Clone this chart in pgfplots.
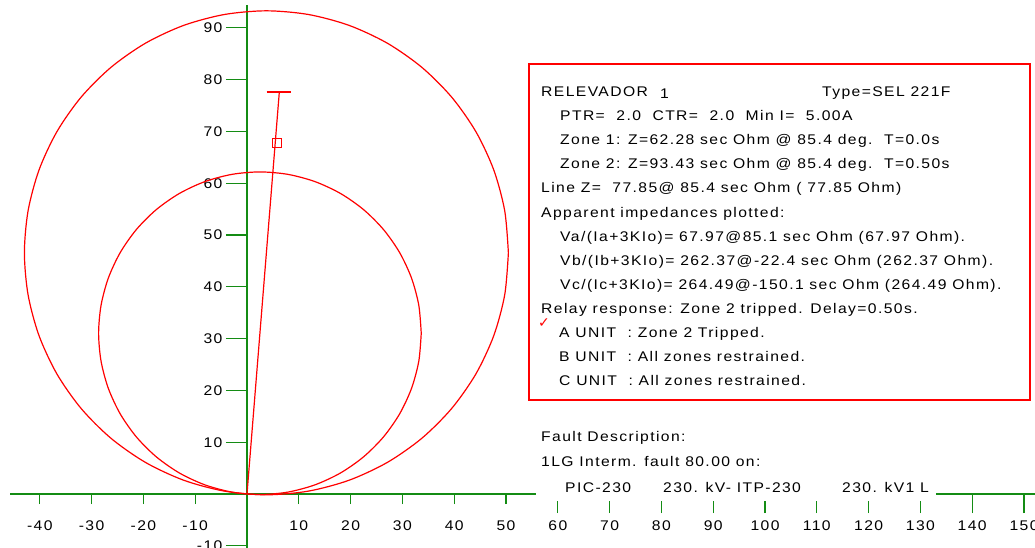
\documentclass[border=0pt]{standalone}
\usepackage{pgfplots}
\pgfplotsset{compat=1.18}
\usepackage{fontspec}
\setmainfont{Liberation Sans}
\newfontfamily\msfont[FakeStretch=1.12,LetterSpace=10]{Liberation Sans}
\newfontfamily\symfont{DejaVu Sans}
\definecolor{axgreen}{RGB}{20,140,20}
\definecolor{mhored}{RGB}{255,0,0}
\newcommand{\msf}{\msfont\fontsize{14}{16}\selectfont}
\begin{document}
\begin{tikzpicture}
\begin{axis}[
  scale only axis, width=1035pt, height=548pt,
  xmin=-47.68, xmax=152.12, ymin=-10.42, ymax=95.37,
  axis lines=middle,
  axis line style={axgreen, line width=1.2pt, -},
  x axis line style={shorten <=10pt},
  y axis line style={shorten >=5pt},
  tick style={axgreen, line width=1.2pt},
  tick align=outside,
  major tick length=10pt,
  xtick={-40,-30,...,50},
  extra x ticks={60,70,...,150},
  extra x tick style={major tick length=19pt, xticklabel style={yshift=9pt}},
  ytick=\empty,
  extra y ticks={-10,10,20,...,90},
  extra y tick style={major tick length=21pt},
  /pgf/number format/assume math mode=true,
  xticklabel style={font=\msf, anchor=north, yshift=-13pt},
  yticklabel style={font=\msf, anchor=east},
]
% Zone 2 mho circle (93.43 @ 85.4 deg)
\addplot[mhored, line width=1.2pt, smooth] coordinates {
(50.461,46.565) (49.751,54.677) (47.644,62.542) (44.203,69.923) (39.532,76.593)
(33.774,82.351) (27.104,87.022) (19.723,90.463) (11.858,92.570) (3.746,93.280)
(-4.366,92.570) (-12.231,90.463) (-19.612,87.022) (-26.282,82.351) (-32.040,76.593)
(-36.711,69.923) (-40.152,62.542) (-42.259,54.677) (-42.969,46.565) (-42.259,38.453)
(-40.152,30.588) (-36.711,23.207) (-32.040,16.537) (-26.282,10.779) (-19.612,6.108)
(-12.231,2.667) (-4.366,0.560) (3.746,-0.150) (11.858,0.560) (19.723,2.667)
(27.104,6.108) (33.774,10.779) (39.532,16.537) (44.203,23.207) (47.644,30.588)
(49.751,38.453) (50.461,46.565)};
% Zone 1 mho circle (62.28 @ 85.4 deg)
\addplot[mhored, line width=1.2pt, smooth] coordinates {
(33.637,31.040) (33.164,36.447) (31.759,41.690) (29.465,46.610) (26.351,51.056)
(22.513,54.894) (18.067,58.008) (13.147,60.302) (7.904,61.707) (2.497,62.180)
(-2.910,61.707) (-8.153,60.302) (-13.073,58.008) (-17.519,54.894) (-21.357,51.056)
(-24.471,46.610) (-26.765,41.690) (-28.170,36.447) (-28.643,31.040) (-28.170,25.633)
(-26.765,20.390) (-24.471,15.470) (-21.357,11.024) (-17.519,7.186) (-13.073,4.072)
(-8.153,1.778) (-2.910,0.373) (2.497,-0.100) (7.904,0.373) (13.147,1.778)
(18.067,4.072) (22.513,7.186) (26.351,11.024) (29.465,15.470) (31.759,20.390)
(33.164,25.633) (33.637,31.040)};
% line impedance
\addplot[mhored, line width=1.2pt] coordinates {(0,0) (6.24,77.60)};
\addplot[mhored, line width=1.2pt] coordinates {(3.8,77.60) (8.5,77.60)};
% apparent impedance
\addplot[mhored, only marks, mark=square, mark size=4.5pt, mark options={line width=1.2pt, fill=white}] coordinates {(5.81,67.72)};
\end{axis}
\begin{scope}[shift={(current axis.north west)}, x=1pt, y=-1pt,
  every node/.style={inner sep=0pt, anchor=base west, font=\msf}]
\draw[mhored, line width=1.3pt] (529,64) rectangle (1030,400);
\node at (541,97) {RELEVADOR};
\node at (660,99) {1};
\node at (822,97) {Type=SEL 221F};
\node at (560,121) {PTR=~~2.0~~CTR=~~2.0~~Min I=~~5.00A};
\node at (560,145) {Zone 1: Z=62.28 sec Ohm @ 85.4 deg.~~T=0.0s};
\node at (560,169) {Zone 2: Z=93.43 sec Ohm @ 85.4 deg.~~T=0.50s};
\node at (541,193) {Line Z=~~77.85@ 85.4 sec Ohm ( 77.85 Ohm)};
\node at (541,217.5) {Apparent impedances plotted:};
\node at (560,241.6) {Va/(Ia+3KIo)= 67.97@85.1 sec Ohm (67.97 Ohm).};
\node at (560,265.7) {Vb/(Ib+3KIo)= 262.37@-22.4 sec Ohm (262.37 Ohm).};
\node at (560,289.8) {Vc/(Ic+3KIo)= 264.49@-150.1 sec Ohm (264.49 Ohm).};
\node at (541,313.9) {Relay response: Zone 2 tripped. Delay=0.50s.};
\node[font=\symfont\fontsize{14}{15}\selectfont, text=mhored] at (538,328) {✓};
\node at (559,338) {A UNIT~~: Zone 2 Tripped.};
\node at (559,362) {B UNIT~~: All zones restrained.};
\node at (559,386) {C UNIT~~: All zones restrained.};
\node at (541,442) {Fault Description:};
\node at (541,467) {1LG Interm. fault 80.00 on:};
\fill[white] (536,477) rectangle (936,501);
\node at (565,493) {PIC-230};
\node at (663,493) {230. kV- ITP-230};
\node at (842,493) {230. kV1 L};
\end{scope}
\pgfresetboundingbox
\path[use as bounding box] (current axis.south west) rectangle (current axis.north east);
\end{tikzpicture}
\end{document}
